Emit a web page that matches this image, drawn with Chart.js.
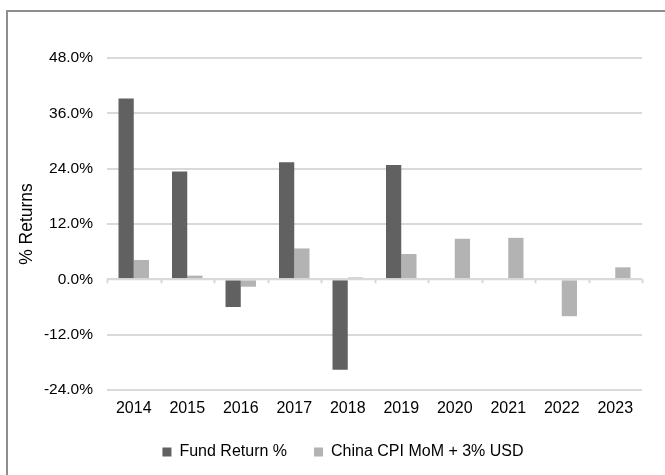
<!DOCTYPE html>
<html>
<head>
<meta charset="utf-8">
<script src="https://cdn.jsdelivr.net/npm/chart.js@4.4.0/dist/chart.umd.min.js"></script>
<style>
  html, body { margin: 0; padding: 0; background: #fff; overflow: hidden; }
  #frame { position: absolute; left: 6px; top: 10px; width: 700px; height: 500px;
           border-left: 2px solid #8e8e8e; border-top: 2px solid #8e8e8e; }
  #chart { position: absolute; left: 0; top: 0; }
</style>
</head>
<body>
<div id="frame"></div>
<canvas id="chart" width="665" height="475"></canvas>
<script>
'use strict';

// data
var years = ['2014', '2015', '2016', '2017', '2018', '2019', '2020', '2021', '2022', '2023'];
var fundReturn = [39.2, 23.4, -6.0, 25.4, -19.6, 24.8, null, null, null, null];
var chinaCpi = [4.2, 0.8, -1.6, 6.7, 0.4, 5.5, 8.8, 9.0, -8.0, 2.6];
var yTicks = [-24, -12, 0, 12, 24, 36, 48];

var fontFamily = '"Liberation Sans", Arial, sans-serif';

// small tick marks hanging under the zero line, like the excel axis
var zeroTicks = {
  id: 'zeroTicks',
  afterDatasetsDraw: function(chart){
    var x = chart.scales.x;
    var y = chart.scales.y;
    var ctx = chart.ctx;
    var zero = y.getPixelForValue(0);
    ctx.save();
    ctx.strokeStyle = '#d9d9d9';
    ctx.lineWidth = 2;
    ctx.beginPath();
    ctx.moveTo(x.left, zero);
    ctx.lineTo(x.right, zero);
    for (var i = 0; i <= years.length; i++) {
      var px = Math.round(x.left + (x.right - x.left) * i / years.length) + 0.5;
      ctx.moveTo(px, zero);
      ctx.lineTo(px, zero + 4);
    }
    ctx.stroke();
    ctx.restore();
  }
};

var ctx = document.getElementById('chart').getContext('2d');
new Chart(ctx, {
  type: 'bar',
  data: {
    labels: years,
    datasets: [
      {
        label: 'Fund Return %',
        data: fundReturn,
        backgroundColor: '#616161',
        barPercentage: 1,
        categoryPercentage: 0.57
      },
      {
        label: 'China CPI MoM + 3% USD',
        data: chinaCpi,
        backgroundColor: '#b3b3b3',
        barPercentage: 1,
        categoryPercentage: 0.57
      }
    ]
  },
  options: {
    responsive: false,
    animation: false,
    // wider left padding keeps the bottom legend centred where excel puts it
    layout: {padding: {left: 44, right: 23, top: 58, bottom: 5}},
    plugins: {
      tooltip: {enabled: false},
      legend: {
        position: 'bottom',
        labels: {
          boxWidth: 9,
          boxHeight: 9,
          padding: 27,
          color: '#000',
          font: {family: fontFamily, size: 16}
        }
      }
    },
    scales: {
      x: {
        grid: {display: false},
        border: {display: false},
        afterFit: function(scale){ scale.height = 27; },
        ticks: {color: '#000', padding: 1, maxRotation: 0, font: {family: fontFamily, size: 16}}
      },
      y: {
        min: -24,
        max: 48,
        afterBuildTicks: function(scale){
          scale.ticks = yTicks.map(function(v){ return {value: v}; });
        },
        afterFit: function(scale){ scale.width = 63; },
        grid: {color: '#d9d9d9', lineWidth: 2, drawTicks: false},
        border: {display: false},
        ticks: {
          color: '#000',
          padding: 14,
          font: {family: fontFamily, size: 15.5},
          callback: function(v){ return v.toFixed(1) + '%'; }
        },
        title: {
          display: true,
          text: '% Returns',
          color: '#000',
          padding: {top: -27, bottom: 0},
          font: {family: fontFamily, size: 17.5}
        }
      }
    }
  },
  plugins: [zeroTicks]
});
</script>
</body>
</html>
